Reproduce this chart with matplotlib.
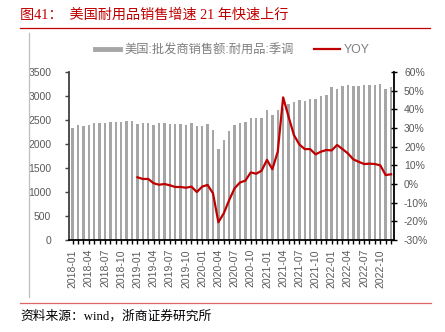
import matplotlib
matplotlib.use("Agg")
import matplotlib.pyplot as plt
from matplotlib.lines import Line2D
import numpy as np

months = [f"{y}-{m:02d}" for y in range(2018, 2023) for m in range(1, 13)]

sales = [2327, 2389, 2375, 2396, 2437, 2430, 2437, 2458, 2458, 2458, 2472, 2479,
         2416, 2437, 2430, 2402, 2430, 2430, 2416, 2416, 2416, 2389, 2430, 2375,
         2375, 2416, 2291, 1903, 2083, 2270, 2400, 2440, 2455, 2550, 2550, 2550,
         2698, 2608, 2708, 2740, 2830, 2868, 2910, 2896, 2931, 2937, 2993, 3020,
         3180, 3139, 3208, 3229, 3201, 3208, 3222, 3222, 3229, 3243, 3146, 3180]

yoy = [None] * 12 + [3.6, 2.7, 2.7, 0.4, -0.4, 0.0, -0.7, -1.6, -1.6, -2.0, -1.4, -4.3,
                     -1.4, -0.5, -5.0, -20.5, -15.7, -8.6, -2.3, 0.8, 1.8, 6.2, 5.5, 7.1,
                     12.9, 7.9, 17.3, 46.4, 36.1, 26.2, 21.2, 18.7, 18.7, 15.9, 17.3, 18.2,
                     18.0, 20.9, 18.7, 16.4, 13.2, 11.9, 10.7, 10.9, 10.7, 10.0, 4.8, 5.2]

tick_labels = [m if i % 3 == 0 else "" for i, m in enumerate(months)]

bar_label = "美国:批发商销售额:耐用品:季调"
line_label = "YOY"
title = "图41：  美国耐用品销售增速 21 年快速上行"
source = "资料来源：wind，浙商证券研究所"

W, H = 445, 332
fig = plt.figure(figsize=(W / 100, H / 100), dpi=100)
plt.rcParams['font.family'] = ['Liberation Sans', 'Noto Sans CJK SC', 'DejaVu Sans']

ax = fig.add_axes([69.3 / W, 1 - 240 / H, (394.3 - 69.3) / W, (240 - 72) / H])
x = np.arange(len(months))
ax.bar(x, sales, width=0.45, color='#A6A6A6', zorder=1)
ax.set_xlim(-0.63, 59.6)
ax.set_ylim(0, 3500)
ax.set_yticks(np.arange(0, 3501, 500))
ax.set_xticks(x)
ax.set_xticklabels(tick_labels, rotation=90, fontsize=7.5, color='#595959')
ax.tick_params(axis='x', length=3, width=1, direction='out', pad=3.5, colors='#000000', labelcolor='#595959')
ax.tick_params(axis='y', length=3, width=1, direction='out', pad=10, labelsize=7.5, labelcolor='#595959', colors='#404040')
for s in ['top', 'right']:
    ax.spines[s].set_visible(False)
ax.spines['left'].set_color('#404040')
ax.spines['left'].set_linewidth(1.3)
ax.spines['bottom'].set_color('#000000')
ax.spines['bottom'].set_linewidth(1.3)

ax2 = ax.twinx()
yv = np.array([np.nan if v is None else v for v in yoy], dtype=float)
ax2.plot(x, yv, color='#C00000', lw=1.6, zorder=3)
ax2.set_ylim(-30, 60)
ax2.set_yticks(np.arange(-30, 61, 10))
ax2.set_yticklabels([f"{v}%" for v in range(-30, 61, 10)])
ax2.tick_params(axis='y', length=5, width=1, direction='inout', pad=4.5, labelsize=7.5, labelcolor='#595959', colors='#000000')
for s in ['top', 'left', 'bottom']:
    ax2.spines[s].set_visible(False)
ax2.spines['right'].set_color('#000000')
ax2.spines['right'].set_linewidth(1.3)

handles = [Line2D([], [], color='#A6A6A6', lw=3.5), Line2D([], [], color='#C00000', lw=1.6)]
fig.legend(handles, [bar_label, line_label], loc='center left',
           bbox_to_anchor=(95 / W, 1 - 50.3 / H), ncol=2, frameon=False,
           fontsize=8.8, handlelength=2.05, handletextpad=0.35, columnspacing=1.7,
           labelcolor='#7F7F7F', borderaxespad=0, borderpad=0)

fig.text(20 / W, 1 - 15 / H, title, color='#C00000', fontsize=10.2, va='center', ha='left',
         family=['Liberation Serif', 'Noto Sans CJK SC'])
fig.text(20 / W, 1 - 316 / H, source, color='#000000', fontsize=9.2, va='center', ha='left',
         family=['Liberation Serif', 'Noto Sans CJK SC'])

fig.add_artist(Line2D([20 / W, 430 / W], [1 - 28.3 / H] * 2, color='#C00000', lw=0.9))
fig.add_artist(Line2D([20 / W, 431 / W], [1 - 302.7 / H] * 2, color='#E06666', lw=0.9))
fig.add_artist(Line2D([28.7 / W] * 2, [1 - 33 / H, 1 - 297 / H], color='#BFBFBF', lw=0.9))

fig.savefig('out.png', dpi=100)
